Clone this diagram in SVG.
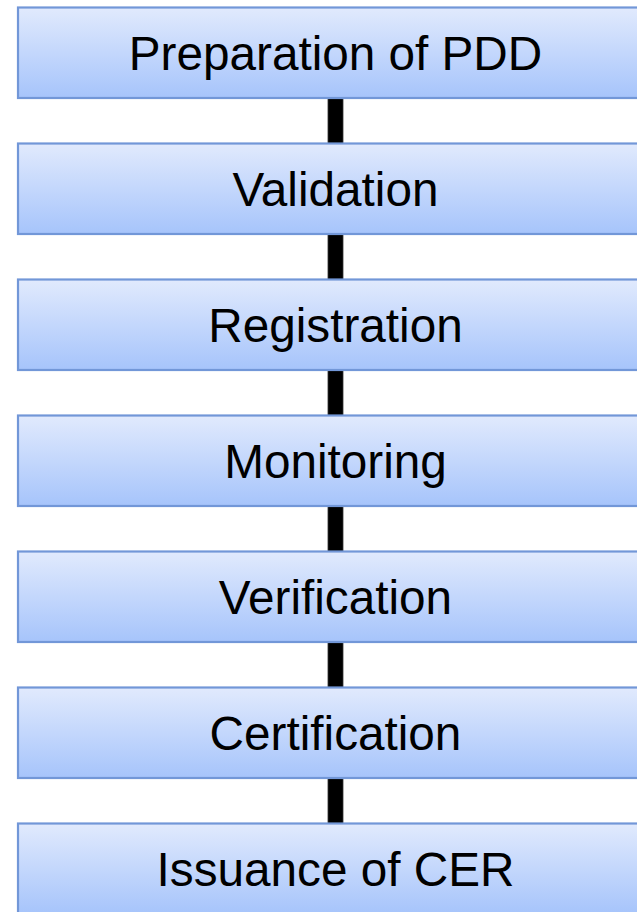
<svg xmlns="http://www.w3.org/2000/svg" width="637" height="912" viewBox="0 0 637 912">
<defs>
<linearGradient id="g" x1="0" y1="0" x2="0" y2="1">
<stop offset="0" stop-color="#e1eafd"/>
<stop offset="1" stop-color="#a6c4fb"/>
</linearGradient>
<style>
.box{fill:url(#g);stroke:#7297d8;stroke-width:2.2}
.lbl{font-family:"Liberation Sans",Arial,sans-serif;font-size:47.7px;fill:#000;text-anchor:middle}
.con{fill:#000;stroke:#333;stroke-width:0.8}
</style>
</defs>
<g id="connectors">
<rect class="con" x="328" y="98" width="15" height="45.5"/>
<rect class="con" x="328" y="234" width="15" height="45.5"/>
<rect class="con" x="328" y="370" width="15" height="45.5"/>
<rect class="con" x="328" y="506" width="15" height="45.5"/>
<rect class="con" x="328" y="642" width="15" height="45.5"/>
<rect class="con" x="328" y="778" width="15" height="45.5"/>
</g>
<g id="n1"><rect class="box" x="18" y="7.5" width="640" height="90.5"/><text class="lbl" x="335.5" y="70">Preparation of PDD</text></g>
<g id="n2"><rect class="box" x="18" y="143.5" width="640" height="90.5"/><text class="lbl" x="335.5" y="206">Validation</text></g>
<g id="n3"><rect class="box" x="18" y="279.5" width="640" height="90.5"/><text class="lbl" x="335.5" y="342">Registration</text></g>
<g id="n4"><rect class="box" x="18" y="415.5" width="640" height="90.5"/><text class="lbl" x="335.5" y="478">Monitoring</text></g>
<g id="n5"><rect class="box" x="18" y="551.5" width="640" height="90.5"/><text class="lbl" x="335.5" y="614">Verification</text></g>
<g id="n6"><rect class="box" x="18" y="687.5" width="640" height="90.5"/><text class="lbl" x="335.5" y="750">Certification</text></g>
<g id="n7"><rect class="box" x="18" y="823.5" width="640" height="90.5"/><text class="lbl" x="335.5" y="886">Issuance of CER</text></g>
</svg>
